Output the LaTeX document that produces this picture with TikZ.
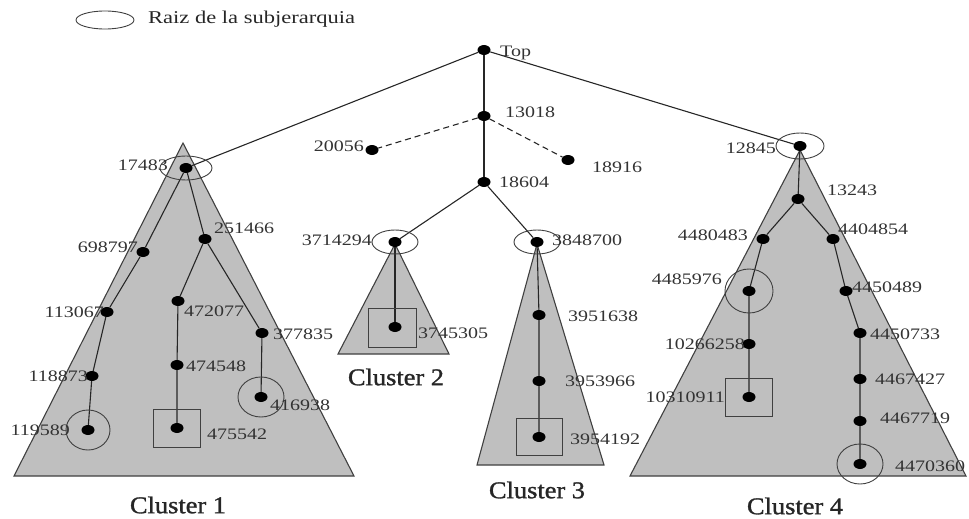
\documentclass[tikz,border=0pt]{standalone}
\usepackage{fontspec}
\setmainfont{Liberation Serif}
\newfontfamily\labfamily{Liberation Serif}[FakeStretch=1.25]
\newfontfamily\clufamily{Liberation Serif}[FakeStretch=1.1,FakeBold=1.2]
\usetikzlibrary{shapes.geometric}
\begin{document}
\begin{tikzpicture}[x=1pt,y=-1pt,
  dot/.style={ellipse,fill=black,inner sep=0pt,minimum width=13pt,minimum height=10pt},
  lbl/.style={font=\labfamily\fontsize{16}{18}\selectfont,inner sep=0pt,text=black!80},
  clu/.style={font=\clufamily\fontsize{24}{26}\selectfont,inner sep=0pt,text=black!85},
  edge/.style={draw=black!85,line width=1.1pt},
  link/.style={edge,dashed,dash pattern=on 6pt off 4pt},
  tri/.style={fill=black!25,draw=black!75,line width=1.1pt},
  rootmark/.style={ellipse,draw=black!75,line width=0.9pt,inner sep=0pt},
  leafbox/.style={rectangle,draw=black!75,line width=1pt,inner sep=0pt}]
\useasboundingbox (0,0) rectangle (969,519);

% legend
\node[rootmark,minimum width=58pt,minimum height=18pt] (legmark) at (105,20) {};
\node[font=\labfamily\fontsize{18}{20}\selectfont,inner sep=0pt,anchor=west,text=black!85] (legtxt) at (148,19) {Raiz de la subjerarquia};

% cluster areas
\draw[tri] (183,143) -- (14,476) -- (354,476) -- cycle;
\draw[tri] (395,244) -- (338,354) -- (449,354) -- cycle;
\draw[tri] (537,244) -- (477,465) -- (604,465) -- cycle;
\draw[tri] (800,150) -- (630,476) -- (966,476) -- cycle;

% upper hierarchy
\node[dot] (top) at (484,50) {};
\node[dot] (n13018) at (484,116) {};
\node[dot] (n20056) at (372,150) {};
\node[dot] (n18916) at (568,160) {};
\node[dot] (n18604) at (484,182) {};

% cluster 1
\node[dot] (n17483) at (186,168) {};
\node[dot] (n698797) at (143,252) {};
\node[dot] (n113067) at (107,312) {};
\node[dot] (n118873) at (92,376) {};
\node[dot] (n119589) at (88,430) {};
\node[dot] (n251466) at (205,239) {};
\node[dot] (n472077) at (178,301) {};
\node[dot] (n474548) at (177,365) {};
\node[dot] (n475542) at (177,428) {};
\node[dot] (n377835) at (262,333) {};
\node[dot] (n416938) at (261,397) {};

% cluster 2
\node[dot] (n3714294) at (395,242) {};
\node[dot] (n3745305) at (395,327) {};

% cluster 3
\node[dot] (n3848700) at (537,242) {};
\node[dot] (n3951638) at (539,315) {};
\node[dot] (n3953966) at (539,381) {};
\node[dot] (n3954192) at (539,437) {};

% cluster 4
\node[dot] (n12845) at (800,146) {};
\node[dot] (n13243) at (798,199) {};
\node[dot] (n4480483) at (763,239) {};
\node[dot] (n4404854) at (833,239) {};
\node[dot] (n4485976) at (749,291) {};
\node[dot] (n10266258) at (749,344) {};
\node[dot] (n10310911) at (749,397) {};
\node[dot] (n4450489) at (846,291) {};
\node[dot] (n4450733) at (860,333) {};
\node[dot] (n4467427) at (860,379) {};
\node[dot] (n4467719) at (860,421) {};
\node[dot] (n4470360) at (860,464) {};

% connectors
\draw[edge] (top) -- (n13018) -- (n18604);
\draw[link] (n13018) -- (n20056);
\draw[link] (n13018) -- (n18916);
\draw[edge] (top) -- (n17483);
\draw[edge] (top) -- (n12845);
\draw[edge] (n18604) -- (n3714294);
\draw[edge] (n18604) -- (n3848700);

\draw[edge] (n17483) -- (n698797) -- (n113067) -- (n118873) -- (n119589);
\draw[edge] (n17483) -- (n251466) -- (n472077) -- (n474548) -- (n475542);
\draw[edge] (n251466) -- (n377835) -- (n416938);

\draw[edge] (n3714294) -- (n3745305);
\draw[edge] (n3848700) -- (n3951638) -- (n3953966) -- (n3954192);

\draw[edge] (n12845) -- (n13243);
\draw[edge] (n13243) -- (n4480483) -- (n4485976) -- (n10266258) -- (n10310911);
\draw[edge] (n13243) -- (n4404854) -- (n4450489) -- (n4450733) -- (n4467427) -- (n4467719) -- (n4470360);

% sub-hierarchy roots
\node[rootmark,minimum width=52pt,minimum height=24pt] (m17483) at (n17483) {};
\node[rootmark,minimum width=46pt,minimum height=24pt] (m3714294) at (n3714294) {};
\node[rootmark,minimum width=46pt,minimum height=24pt] (m3848700) at (n3848700) {};
\node[rootmark,minimum width=48pt,minimum height=26pt] (m12845) at (n12845) {};
\node[rootmark,minimum width=44pt,minimum height=40pt] (m119589) at (n119589) {};
\node[rootmark,minimum width=46pt,minimum height=40pt] (m416938) at (n416938) {};
\node[rootmark,minimum width=48pt,minimum height=44pt] (m4485976) at (n4485976) {};
\node[rootmark,minimum width=46pt,minimum height=40pt] (m4470360) at (n4470360) {};

% leaf boxes
\node[leafbox,minimum width=47pt,minimum height=38pt] (b475542) at (n475542) {};
\node[leafbox,minimum width=48pt,minimum height=39pt] (b3745305) at (392,328) {};
\node[leafbox,minimum width=46pt,minimum height=37pt] (b3954192) at (n3954192) {};
\node[leafbox,minimum width=47pt,minimum height=38pt] (b10310911) at (n10310911) {};

% labels
\node[lbl,anchor=west] (ltop) at (500,53) {Top};
\node[lbl,anchor=west] (l13018) at (505,112) {13018};
\node[lbl,anchor=east] (l20056) at (364,146) {20056};
\node[lbl,anchor=west] (l18916) at (592,167) {18916};
\node[lbl,anchor=west] (l18604) at (499,182) {18604};

\node[lbl,anchor=east] (l17483) at (168,165) {17483};
\node[lbl,anchor=east] (l698797) at (138,247) {698797};
\node[lbl,anchor=east] (l113067) at (104,312) {113067};
\node[lbl,anchor=east] (l118873) at (88,376) {118873};
\node[lbl,anchor=east] (l119589) at (70,430) {119589};
\node[lbl,anchor=west] (l251466) at (214,228) {251466};
\node[lbl,anchor=west] (l472077) at (184,311) {472077};
\node[lbl,anchor=west] (l474548) at (186,366) {474548};
\node[lbl,anchor=west] (l475542) at (207,434) {475542};
\node[lbl,anchor=west] (l377835) at (273,334) {377835};
\node[lbl,anchor=west] (l416938) at (270,405) {416938};

\node[lbl,anchor=east] (l3714294) at (372,240) {3714294};
\node[lbl,anchor=west] (l3745305) at (418,333) {3745305};
\node[lbl,anchor=west] (l3848700) at (552,240) {3848700};
\node[lbl,anchor=west] (l3951638) at (568,316) {3951638};
\node[lbl,anchor=west] (l3953966) at (565,381) {3953966};
\node[lbl,anchor=west] (l3954192) at (570,439) {3954192};

\node[lbl,anchor=east] (l12845) at (776,148) {12845};
\node[lbl,anchor=west] (l13243) at (827,190) {13243};
\node[lbl,anchor=east] (l4480483) at (748,235) {4480483};
\node[lbl,anchor=west] (l4404854) at (838,229) {4404854};
\node[lbl,anchor=east] (l4485976) at (722,279) {4485976};
\node[lbl,anchor=east] (l10266258) at (745,344) {10266258};
\node[lbl,anchor=east] (l10310911) at (725,397) {10310911};
\node[lbl,anchor=west] (l4450489) at (852,287) {4450489};
\node[lbl,anchor=west] (l4450733) at (870,334) {4450733};
\node[lbl,anchor=west] (l4467427) at (875,379) {4467427};
\node[lbl,anchor=west] (l4467719) at (880,418) {4467719};
\node[lbl,anchor=west] (l4470360) at (895,466) {4470360};

% cluster titles
\node[clu] (c1) at (178,505) {Cluster 1};
\node[clu] (c2) at (396,377) {Cluster 2};
\node[clu] (c3) at (537,490) {Cluster 3};
\node[clu] (c4) at (795,506) {Cluster 4};
\end{tikzpicture}
\end{document}
